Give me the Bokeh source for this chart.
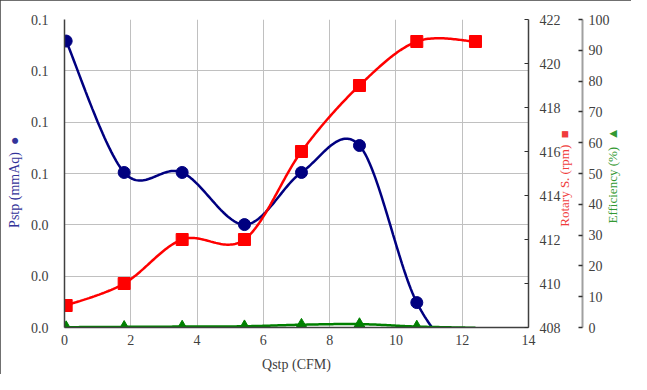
import numpy as np
from bokeh.plotting import figure
from bokeh.models import Range1d, LinearAxis, FixedTicker, PrintfTickFormatter
from bokeh.embed import file_html
from bokeh.resources import INLINE

# ---- data ----
qstp = [0.05, 1.8, 3.55, 5.43, 7.15, 8.9, 10.63, 12.4]
pstp = [0.1116, 0.0604, 0.0604, 0.0401, 0.0604, 0.0709, 0.0097, -0.0186]
rpm = [409, 410, 412, 412, 416, 419, 421, 421]
eff = [0.1, 0.2, 0.3, 0.4, 0.9, 1.1, 0.3, -0.1]

x_ticks = [0, 2, 4, 6, 8, 10, 12, 14]
p_ticks = [0.0, 0.02, 0.04, 0.06, 0.08, 0.10, 0.12]
rpm_ticks = [408, 410, 412, 414, 416, 418, 420, 422]
eff_ticks = [0, 10, 20, 30, 40, 50, 60, 70, 80, 90, 100]

FONT = "Liberation Serif"
TICK_COLOR = "#404040"
NB = "\u00a0"


def smooth(xs, ys, n=40):
    """Excel-like smoothed line: cubic Bezier with control points at 1/6 of neighbour chord."""
    P = np.column_stack([xs, ys]).astype(float)
    out = [P[0]]
    t = np.linspace(0, 1, n)[1:, None]
    for i in range(len(P) - 1):
        p0 = P[i - 1] if i > 0 else P[i]
        p1, p2 = P[i], P[i + 1]
        p3 = P[i + 2] if i + 2 < len(P) else P[i + 1]
        c1 = p1 + (p2 - p0) / 6.0
        c2 = p2 - (p3 - p1) / 6.0
        seg = (1 - t) ** 3 * p1 + 3 * (1 - t) ** 2 * t * c1 + 3 * (1 - t) * t ** 2 * c2 + t ** 3 * p2
        out.extend(seg)
    a = np.array(out)
    return a[:, 0], a[:, 1]


p = figure(width=631, height=374, output_backend="svg", toolbar_location=None,
           x_range=Range1d(x_ticks[0], x_ticks[-1]), y_range=Range1d(p_ticks[0], p_ticks[-1]),
           min_border_left=64, min_border_right=103, min_border_top=19, min_border_bottom=47)
p.extra_y_ranges = {"rpm": Range1d(rpm_ticks[0], rpm_ticks[-1]),
                    "eff": Range1d(eff_ticks[0], eff_ticks[-1])}
p.outline_line_color = None
p.background_fill_color = "white"
p.border_fill_color = "white"
p.styles = {"outline": "2px solid #404040", "outline-offset": "-2px"}

# grids
p.xgrid.ticker = FixedTicker(ticks=x_ticks)
p.ygrid.ticker = FixedTicker(ticks=p_ticks)
for g in (p.xgrid, p.ygrid):
    g.grid_line_color = "#c0c0c0"
    g.grid_line_width = 1


def style_axis(ax):
    ax.major_label_text_font = FONT
    ax.major_label_text_font_size = "14px"
    ax.major_label_text_color = TICK_COLOR
    ax.axis_label_text_font = FONT
    ax.axis_label_text_font_style = "normal"
    ax.axis_label_text_font_size = "14px"
    ax.axis_label_text_color = TICK_COLOR
    ax.minor_tick_line_color = None
    ax.axis_line_color = "#404040"
    ax.axis_line_width = 1.5
    ax.major_tick_line_color = "#303030"


def right_title(ax, text, symbol, lead):
    """Right-side axis title reading bottom-to-top, symbol on top."""
    try:
        ax.axis_label_orientation = np.pi / 2
    except Exception:
        ax.axis_label = NB * 6 + symbol + NB * 2 + text
        return
    try:
        ax.axis_label_align = "start"
        ax.axis_label = NB * lead + text + NB * 2 + symbol
    except Exception:
        ax.axis_label = text + NB * 2 + symbol


# bottom axis
xa = p.xaxis[0]
style_axis(xa)
xa.ticker = FixedTicker(ticks=x_ticks)
xa.major_tick_in = 0
xa.major_tick_out = 0
xa.major_label_standoff = 7
xa.axis_label = "Qstp (CFM)"
xa.axis_label_standoff = 9

# left axis
ya = p.yaxis[0]
style_axis(ya)
ya.ticker = FixedTicker(ticks=p_ticks)
ya.formatter = PrintfTickFormatter(format="%.1f")
ya.major_tick_in = 0
ya.major_tick_out = 0
ya.major_label_standoff = 16
ya.axis_label = "Pstp (mmAq)" + NB * 2 + "\u25CF" + NB * 5
ya.axis_label_text_color = "#333399"
ya.axis_label_standoff = 6

# right axis: rotary speed
ra = LinearAxis(y_range_name="rpm", ticker=FixedTicker(ticks=rpm_ticks))
style_axis(ra)
ra.major_tick_in = 4
ra.major_tick_out = 0
ra.major_label_standoff = 11
ra.axis_label_text_font_size = "13px"
ra.axis_label_text_color = "#f03c3c"
ra.axis_label_standoff = 1
right_title(ra, "Rotary S. (rpm)", "\u25A0", 31)
p.add_layout(ra, "right")

# right axis: efficiency
ea = LinearAxis(y_range_name="eff", ticker=FixedTicker(ticks=eff_ticks))
style_axis(ea)
ea.axis_line_color = "#a0a0a0"
ea.axis_line_width = 2
ea.major_tick_in = 4
ea.major_tick_out = 0
ea.major_tick_line_width = 1.5
ea.major_label_standoff = 6
ea.axis_label_text_font_size = "13px"
ea.axis_label_text_color = "#339933"
ea.axis_label_standoff = 0
right_title(ea, "Efficiency (%)", "\u25B2", 32)
p.add_layout(ea, "right")

# series
BLUE, RED, GREEN = "#000080", "#ff0000", "#008000"

sx, sy = smooth(qstp, pstp)
p.line(sx, sy, line_color=BLUE, line_width=2.5)
sx, sy = smooth(qstp, rpm)
p.line(sx, sy, line_color=RED, line_width=2.5, y_range_name="rpm")
sx, sy = smooth(qstp, eff)
p.line(sx, sy, line_color=GREEN, line_width=2.5, y_range_name="eff")


def inside(xs, ys, lo):
    pts = [(x, y) for x, y in zip(xs, ys) if y >= lo]
    return [a for a, _ in pts], [b for _, b in pts]


bx, by = inside(qstp, pstp, p_ticks[0])
p.scatter(bx, by, marker="circle", size=12, fill_color=BLUE, line_color=BLUE)
rx, ry = inside(qstp, rpm, rpm_ticks[0])
p.scatter(rx, ry, marker="square", size=12, fill_color=RED, line_color=RED, y_range_name="rpm")
gx, gy = inside(qstp, eff, eff_ticks[0])
p.scatter(gx, gy, marker="triangle", size=11, fill_color=GREEN, line_color=GREEN, y_range_name="eff")

open("out.html", "w").write(file_html(p, INLINE))
